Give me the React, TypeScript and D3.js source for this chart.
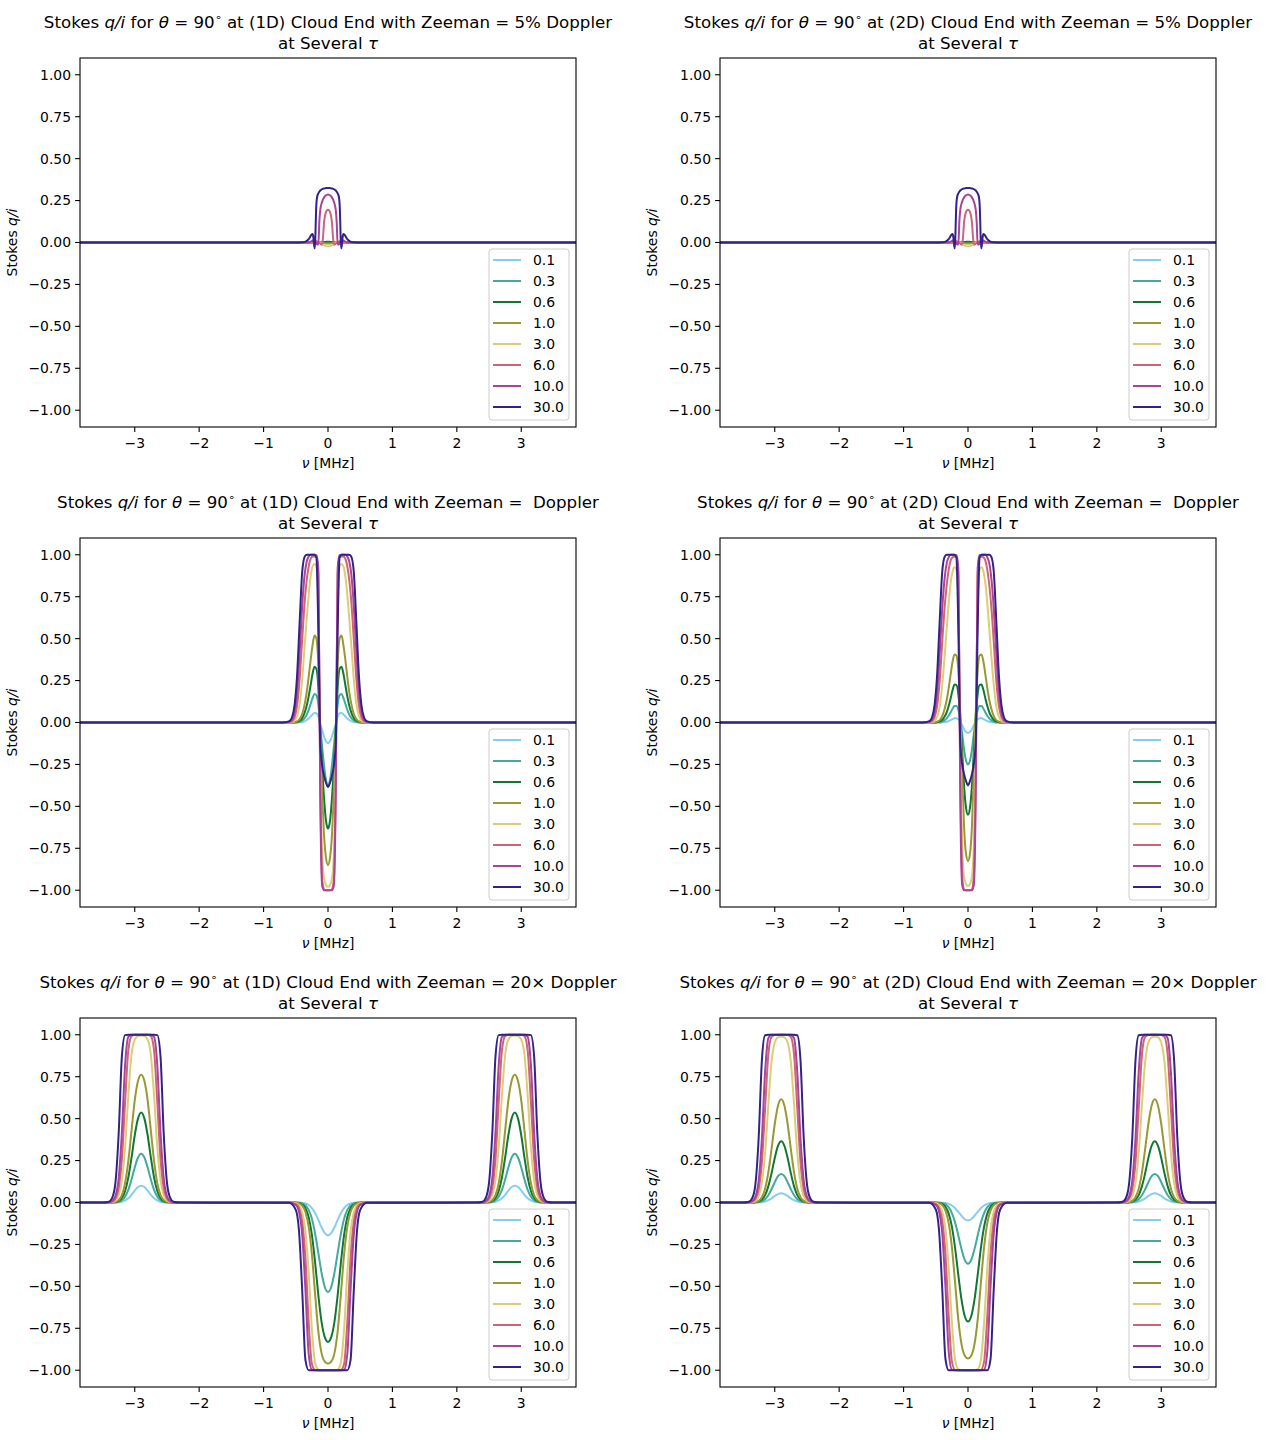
import React from "react";
import * as d3 from "d3";

const TAUS = ["0.1", "0.3", "0.6", "1.0", "3.0", "6.0", "10.0", "30.0"];
const COLORS = ["#88CCEE", "#44AA99", "#117733", "#999933", "#DDCC77", "#CC6677", "#AA4499", "#332288"];
const X_TICKS = [-3, -2, -1, 0, 1, 2, 3];
const Y_TICKS = [-1, -0.75, -0.5, -0.25, 0, 0.25, 0.5, 0.75, 1];
const X_EDGE = 3.85;

// Top row (Zeeman = 5% Doppler): half profiles for nu >= 0, the plots are symmetric about 0
const TOP_X = [0, 0.02, 0.04, 0.06, 0.08, 0.1, 0.12, 0.135, 0.15, 0.17, 0.185, 0.195, 0.205, 0.215, 0.225, 0.24, 0.26, 0.3, 0.35, 0.4, 0.5];
const TOP_1D = [
  [0.001, 0.001, 0.001, 0.001, 0, 0, 0, 0, 0, 0, 0, 0, 0, 0, 0, 0, 0, 0, 0, 0, 0],
  [0.002, 0.002, 0.002, 0.001, 0.001, 0, 0, 0, 0, 0, 0, 0, 0, 0, 0, 0, 0, 0, 0, 0, 0],
  [0.004, 0.004, 0.003, 0.003, 0.002, 0.001, 0, 0, 0, 0, 0, 0, 0, 0, 0, 0, 0, 0, 0, 0, 0],
  [-0.006, -0.006, -0.005, -0.004, -0.003, -0.001, 0.001, 0.001, 0.001, 0.001, 0, 0, 0, 0, 0, 0, 0, 0, 0, 0, 0],
  [-0.022, -0.022, -0.02, -0.017, -0.012, -0.006, 0, 0.003, 0.004, 0.004, 0.003, 0.003, 0.002, 0.002, 0.001, 0.001, 0, 0, 0, 0, 0],
  [0.195, 0.19, 0.172, 0.125, 0.02, -0.014, -0.008, -0.002, 0.003, 0.005, 0.005, 0.004, 0.004, 0.003, 0.003, 0.002, 0.001, 0, 0, 0, 0],
  [0.286, 0.284, 0.279, 0.27, 0.255, 0.232, 0.195, 0.12, -0.012, -0.012, 0.004, 0.011, 0.014, 0.015, 0.014, 0.011, 0.007, 0.002, 0, 0, 0],
  [0.325, 0.325, 0.324, 0.322, 0.32, 0.316, 0.31, 0.303, 0.293, 0.27, 0.19, 0.05, -0.035, -0.015, 0.025, 0.05, 0.045, 0.02, 0.005, 0.001, 0],
];
// the 2D top panel reads the same as the 1D one
const TOP_2D = TOP_1D;

// Middle row (Zeeman = Doppler)
const MID_X = [0, 0.03, 0.06, 0.09, 0.12, 0.15, 0.18, 0.21, 0.24, 0.27, 0.3, 0.33, 0.36, 0.4, 0.44, 0.48, 0.52, 0.56, 0.6, 0.7];
const MID_1D = [
  [-0.123, -0.113, -0.085, -0.048, -0.008, 0.035, 0.055, 0.057, 0.048, 0.036, 0.024, 0.015, 0.008, 0.003, 0.001, 0, 0, 0, 0, 0],
  [-0.375, -0.345, -0.262, -0.148, -0.024, 0.105, 0.163, 0.17, 0.145, 0.11, 0.075, 0.047, 0.028, 0.012, 0.004, 0.001, 0, 0, 0, 0],
  [-0.633, -0.59, -0.46, -0.27, -0.045, 0.21, 0.32, 0.333, 0.29, 0.222, 0.156, 0.102, 0.062, 0.027, 0.01, 0.003, 0.001, 0, 0, 0],
  [-0.85, -0.81, -0.68, -0.42, -0.07, 0.34, 0.5, 0.518, 0.46, 0.372, 0.272, 0.182, 0.114, 0.052, 0.02, 0.007, 0.002, 0, 0, 0],
  [-0.98, -0.97, -0.93, -0.8, -0.2, 0.74, 0.93, 0.945, 0.93, 0.87, 0.76, 0.62, 0.47, 0.26, 0.11, 0.04, 0.012, 0.003, 0, 0],
  [-1, -1, -0.995, -0.94, -0.35, 0.88, 0.985, 0.99, 0.99, 0.975, 0.93, 0.85, 0.73, 0.5, 0.26, 0.1, 0.03, 0.008, 0.002, 0],
  [-1, -1, -1, -0.975, -0.45, 0.92, 0.998, 1, 1, 1, 0.99, 0.96, 0.89, 0.7, 0.42, 0.18, 0.06, 0.015, 0.004, 0],
  [-0.385, -0.36, -0.32, -0.26, -0.13, 0.55, 0.985, 1, 1, 1, 1, 1, 0.99, 0.9, 0.6, 0.28, 0.1, 0.03, 0.008, 0],
];
const MID_2D = [
  [-0.062, -0.056, -0.04, -0.016, 0.006, 0.02, 0.026, 0.025, 0.02, 0.014, 0.009, 0.005, 0.003, 0.001, 0, 0, 0, 0, 0, 0],
  [-0.25, -0.228, -0.165, -0.07, 0.02, 0.075, 0.098, 0.098, 0.082, 0.06, 0.04, 0.025, 0.014, 0.006, 0.002, 0.001, 0, 0, 0, 0],
  [-0.55, -0.51, -0.385, -0.175, 0.035, 0.168, 0.224, 0.226, 0.192, 0.143, 0.098, 0.062, 0.037, 0.016, 0.006, 0.002, 0, 0, 0, 0],
  [-0.826, -0.785, -0.63, -0.31, 0.06, 0.305, 0.4, 0.405, 0.362, 0.285, 0.205, 0.136, 0.085, 0.038, 0.014, 0.005, 0.001, 0, 0, 0],
  [-0.975, -0.965, -0.92, -0.74, -0.08, 0.76, 0.91, 0.925, 0.9, 0.83, 0.71, 0.56, 0.41, 0.225, 0.095, 0.034, 0.01, 0.003, 0, 0],
  [-1, -1, -0.995, -0.92, -0.3, 0.88, 0.985, 0.99, 0.985, 0.965, 0.91, 0.82, 0.7, 0.48, 0.245, 0.097, 0.03, 0.008, 0.002, 0],
  [-1, -1, -1, -0.97, -0.45, 0.92, 0.998, 1, 1, 1, 0.985, 0.95, 0.87, 0.68, 0.41, 0.175, 0.057, 0.015, 0.004, 0],
  [-0.375, -0.35, -0.31, -0.25, -0.12, 0.56, 0.985, 1, 1, 1, 1, 1, 0.99, 0.9, 0.6, 0.28, 0.1, 0.03, 0.008, 0],
];

// Bottom row (Zeeman = 20x Doppler): dip at 0, peaks at +-BOT_PEAK_C; offsets from each centre
const BOT_PEAK_C = 2.9;
const BOT_X = [0, 0.05, 0.1, 0.15, 0.2, 0.25, 0.3, 0.35, 0.4, 0.45, 0.5, 0.6];
const BOT_1D_DIP = [
  [-0.196, -0.183, -0.148, -0.104, -0.063, -0.033, -0.015, -0.006, -0.002, 0, 0, 0],
  [-0.534, -0.504, -0.419, -0.301, -0.186, -0.097, -0.044, -0.017, -0.006, -0.002, 0, 0],
  [-0.831, -0.803, -0.712, -0.552, -0.358, -0.193, -0.088, -0.034, -0.012, -0.003, -0.001, 0],
  [-0.96, -0.948, -0.898, -0.769, -0.547, -0.309, -0.144, -0.057, -0.019, -0.006, -0.001, 0],
  [-1, -1, -1, -0.996, -0.955, -0.755, -0.418, -0.172, -0.059, -0.017, -0.004, 0],
  [-1, -1, -1, -1, -0.999, -0.962, -0.711, -0.335, -0.117, -0.034, -0.009, 0],
  [-1, -1, -1, -1, -1, -0.997, -0.902, -0.523, -0.193, -0.057, -0.015, -0.001],
  [-1, -1, -1, -1, -1, -1, -1, -0.94, -0.528, -0.17, -0.044, -0.002],
];
const BOT_1D_PEAK = [
  [0.1, 0.092, 0.071, 0.046, 0.025, 0.012, 0.004, 0.001, 0, 0, 0, 0],
  [0.291, 0.268, 0.209, 0.137, 0.075, 0.035, 0.013, 0.004, 0.001, 0, 0, 0],
  [0.537, 0.5, 0.401, 0.268, 0.149, 0.069, 0.027, 0.009, 0.002, 0.001, 0, 0],
  [0.762, 0.724, 0.609, 0.429, 0.246, 0.115, 0.044, 0.014, 0.004, 0.001, 0, 0],
  [0.995, 0.992, 0.971, 0.88, 0.636, 0.332, 0.132, 0.043, 0.012, 0.003, 0.001, 0],
  [1, 1, 1, 0.992, 0.906, 0.598, 0.26, 0.086, 0.024, 0.005, 0.001, 0],
  [1, 1, 1, 1, 0.987, 0.818, 0.417, 0.143, 0.039, 0.009, 0.002, 0],
  [1, 1, 1, 1, 1, 0.998, 0.87, 0.408, 0.118, 0.027, 0.005, 0],
];
const BOT_2D_DIP = [
  [-0.107, -0.1, -0.08, -0.056, -0.034, -0.018, -0.008, -0.003, -0.001, 0, 0, 0],
  [-0.365, -0.342, -0.279, -0.197, -0.12, -0.063, -0.028, -0.011, -0.004, -0.001, 0, 0],
  [-0.71, -0.678, -0.581, -0.433, -0.272, -0.144, -0.066, -0.026, -0.009, -0.003, -0.001, 0],
  [-0.93, -0.913, -0.846, -0.7, -0.48, -0.266, -0.122, -0.048, -0.016, -0.005, -0.001, 0],
  [-1, -1, -0.999, -0.994, -0.939, -0.717, -0.387, -0.158, -0.054, -0.016, -0.004, 0],
  [-1, -1, -1, -1, -0.998, -0.947, -0.673, -0.309, -0.108, -0.032, -0.008, 0],
  [-1, -1, -1, -1, -1, -0.996, -0.887, -0.501, -0.184, -0.054, -0.014, -0.001],
  [-1, -1, -1, -1, -1, -1, -1, -0.933, -0.514, -0.165, -0.042, -0.002],
];
const BOT_2D_PEAK = [
  [0.055, 0.05, 0.039, 0.025, 0.014, 0.006, 0.002, 0.001, 0, 0, 0, 0],
  [0.17, 0.157, 0.121, 0.079, 0.043, 0.02, 0.008, 0.002, 0.001, 0, 0, 0],
  [0.365, 0.337, 0.265, 0.174, 0.096, 0.044, 0.017, 0.006, 0.002, 0, 0, 0],
  [0.615, 0.577, 0.468, 0.318, 0.178, 0.082, 0.032, 0.01, 0.003, 0.001, 0, 0],
  [0.99, 0.985, 0.954, 0.838, 0.581, 0.296, 0.117, 0.038, 0.01, 0.002, 0, 0],
  [1, 1, 0.999, 0.987, 0.88, 0.56, 0.239, 0.079, 0.022, 0.005, 0.001, 0],
  [1, 1, 1, 1, 0.978, 0.776, 0.38, 0.129, 0.035, 0.008, 0.002, 0],
  [1, 1, 1, 1, 1, 0.997, 0.846, 0.383, 0.11, 0.025, 0.005, 0],
];

type Pt = [number, number];

// reflect a half profile about centre c
const mirror = (xs: number[], ys: number[], c = 0): Pt[] => {
  const left = xs.slice(1).map((x, i) => [c - x, ys[i + 1]] as Pt).reverse();
  const right = xs.map((x, i) => [c + x, ys[i]] as Pt);
  return [...left, ...right];
};

const centred = (xs: number[], rows: number[][]): Pt[][] =>
  rows.map((ys) => [[-X_EDGE, 0], ...mirror(xs, ys), [X_EDGE, 0]] as Pt[]);

const split = (xs: number[], dips: number[][], peaks: number[][], c: number): Pt[][] =>
  dips.map(
    (ys, k) =>
      [[-X_EDGE, 0], ...mirror(xs, peaks[k], -c), ...mirror(xs, ys), ...mirror(xs, peaks[k], c), [X_EDGE, 0]] as Pt[]
  );

const PANELS = [
  { row: 0, col: 0, dim: "1D", zee: "5%", curves: centred(TOP_X, TOP_1D) },
  { row: 0, col: 1, dim: "2D", zee: "5%", curves: centred(TOP_X, TOP_2D) },
  { row: 1, col: 0, dim: "1D", zee: "", curves: centred(MID_X, MID_1D) },
  { row: 1, col: 1, dim: "2D", zee: "", curves: centred(MID_X, MID_2D) },
  { row: 2, col: 0, dim: "1D", zee: "20×", curves: split(BOT_X, BOT_1D_DIP, BOT_1D_PEAK, BOT_PEAK_C) },
  { row: 2, col: 1, dim: "2D", zee: "20×", curves: split(BOT_X, BOT_2D_DIP, BOT_2D_PEAK, BOT_PEAK_C) },
];

const W = 496;
const H = 369;
const FONT = "DejaVu Sans, sans-serif";
const fmtY = (v: number) => d3.format(".2f")(v).replace("-", "−");
const fmtX = (v: number) => String(v).replace("-", "−");

const Panel = ({ p }: { p: (typeof PANELS)[number] }) => {
  const x0 = 80 + p.col * 640;
  const y0 = 58 + p.row * 480;
  const x = d3.scaleLinear().domain([-X_EDGE, X_EDGE]).range([0, W]);
  const y = d3.scaleLinear().domain([-1.1, 1.1]).range([H, 0]);
  const line = d3
    .line<Pt>()
    .x((d) => x(d[0]))
    .y((d) => y(d[1]))
    .curve(d3.curveMonotoneX);
  const clipId = `clip-${p.row}-${p.col}`;
  const legW = 80;
  const legH = 171;
  const legX = W - 7 - legW;
  const legY = H - 7 - legH;

  return (
    <g transform={`translate(${x0},${y0})`} fontFamily={FONT}>
      <text x={W / 2} y={-30} textAnchor="middle" fontSize={16.67} style={{ whiteSpace: "pre" }}>
        <tspan>Stokes </tspan>
        <tspan fontStyle="italic">q/i</tspan>
        <tspan> for </tspan>
        <tspan fontStyle="italic">θ</tspan>
        <tspan> = 90</tspan>
        <tspan fontSize={11} dy={-7}>∘</tspan>
        <tspan dy={7}>{` at (${p.dim}) Cloud End with Zeeman = ${p.zee} Doppler`}</tspan>
      </text>
      <text x={W / 2} y={-9} textAnchor="middle" fontSize={16.67}>
        <tspan>at Several </tspan>
        <tspan fontStyle="italic">τ</tspan>
      </text>

      <defs>
        <clipPath id={clipId}>
          <rect x={0} y={0} width={W} height={H} />
        </clipPath>
      </defs>
      <g clipPath={`url(#${clipId})`}>
        {p.curves.map((pts, i) => (
          <path key={i} d={line(pts) as string} fill="none" stroke={COLORS[i]} strokeWidth={2} strokeLinejoin="round" />
        ))}
      </g>

      <rect x={0} y={0} width={W} height={H} fill="none" stroke="#000" strokeWidth={1.1} />

      {X_TICKS.map((t) => (
        <g key={t} transform={`translate(${x(t)},${H})`}>
          <line y2={4.9} stroke="#000" strokeWidth={1.1} />
          <text y={20.5} textAnchor="middle" fontSize={13.9}>
            {fmtX(t)}
          </text>
        </g>
      ))}
      {Y_TICKS.map((t) => (
        <g key={t} transform={`translate(0,${y(t)})`}>
          <line x2={-4.9} stroke="#000" strokeWidth={1.1} />
          <text x={-9} dy="0.35em" textAnchor="end" fontSize={13.9}>
            {fmtY(t)}
          </text>
        </g>
      ))}

      <text x={W / 2} y={H + 41} textAnchor="middle" fontSize={13.9}>
        <tspan fontStyle="italic">ν</tspan>
        <tspan> [MHz]</tspan>
      </text>
      <text transform={`translate(-63,${H / 2}) rotate(-90)`} textAnchor="middle" fontSize={13.9}>
        <tspan>Stokes </tspan>
        <tspan fontStyle="italic">q/i</tspan>
      </text>

      <g transform={`translate(${legX},${legY})`}>
        <rect width={legW} height={legH} rx={3} fill="#fff" fillOpacity={0.8} stroke="#cccccc" strokeWidth={1} />
        {TAUS.map((t, i) => (
          <g key={t} transform={`translate(0,${11 + i * 21})`}>
            <line x1={4} x2={32} stroke={COLORS[i]} strokeWidth={2} />
            <text x={44} dy="0.35em" fontSize={13.9}>
              {t}
            </text>
          </g>
        ))}
      </g>
    </g>
  );
};

export default function App() {
  return (
    <svg width={1280} height={1440} style={{ position: "absolute", left: 0, top: 0, background: "#fff" }}>
      <rect width={1280} height={1440} fill="#fff" />
      {PANELS.map((p) => (
        <Panel key={`${p.row}-${p.col}`} p={p} />
      ))}
    </svg>
  );
}
